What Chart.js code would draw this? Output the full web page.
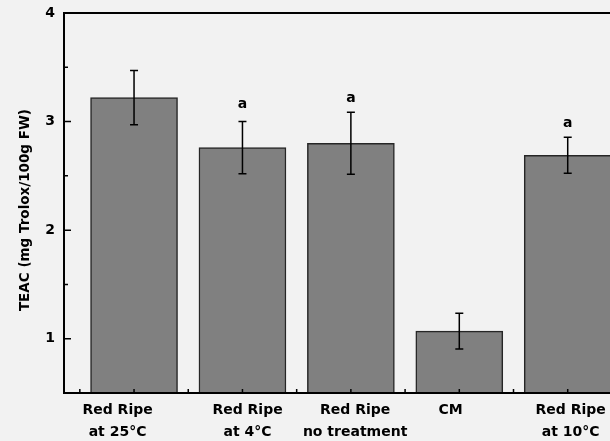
<!DOCTYPE html>
<html>
<head>
<meta charset="utf-8">
<script src="https://cdn.jsdelivr.net/npm/chart.js@4.4.1/dist/chart.umd.min.js"></script>
<style>
  body { margin: 0; background: #f2f2f2; }
  canvas { display: block; }
</style>
</head>
<body>
<canvas id="grafico" width="610" height="441"></canvas>
<script>
// dados
const categorias = [['Red Ripe', 'at 25°C'], ['Red Ripe', 'at 4°C'], ['Red Ripe', 'no treatment'], ['CM'], ['Red Ripe', 'at 10°C']];
const posicoes = [1, 2, 3, 4, 5];
const posRotulos = [0.848, 2.047, 3.039, 3.92, 5.027]; // rotulos nao ficam bem centrados nas barras
const teac = [3.22, 2.76, 2.80, 1.07, 2.69];
const erros = [0.25, 0.24, 0.285, 0.165, 0.165];
const letras = ['', 'a', 'a', '', 'a'];
const letrasY = [null, 3.16, 3.21, null, 2.98];
const yTicks = [1, 2, 3, 4];
const yMenores = [1.5, 2.5, 3.5];

const fonte = 'DejaVu Sans, Arial, sans-serif';

// barras de erro, letras e eixos desenhados por cima
const extras = {
  id: 'extras',
  afterDatasetsDraw(chart) {
    const ctx = chart.ctx;
    const x = chart.scales.x;
    const y = chart.scales.y;
    const area = chart.chartArea;
    ctx.save();

    // barras de erro
    ctx.strokeStyle = '#000';
    ctx.lineWidth = 1.5;
    posicoes.forEach((p, i) => {
      const px = x.getPixelForValue(p);
      const top = y.getPixelForValue(teac[i] + erros[i]);
      const bot = y.getPixelForValue(teac[i] - erros[i]);
      ctx.beginPath();
      ctx.moveTo(px, top); ctx.lineTo(px, bot);
      ctx.moveTo(px - 4, top); ctx.lineTo(px + 4, top);
      ctx.moveTo(px - 4, bot); ctx.lineTo(px + 4, bot);
      ctx.stroke();
    });

    // letras de significancia
    ctx.fillStyle = '#000';
    ctx.font = 'bold 14px ' + fonte;
    ctx.textAlign = 'center';
    ctx.textBaseline = 'middle';
    letras.forEach((l, i) => {
      if (!l) return;
      ctx.fillText(l, x.getPixelForValue(posicoes[i]), y.getPixelForValue(letrasY[i]));
    });

    // eixos
    ctx.lineWidth = 2;
    ctx.beginPath();
    ctx.moveTo(area.left, area.top); ctx.lineTo(area.left, area.bottom);
    ctx.moveTo(area.left - 1, area.bottom); ctx.lineTo(area.right, area.bottom);
    ctx.moveTo(area.left - 1, area.top); ctx.lineTo(area.right, area.top);
    ctx.stroke();

    ctx.lineWidth = 1.5;
    ctx.beginPath();
    yTicks.forEach(v => {
      const py = y.getPixelForValue(v);
      ctx.moveTo(area.left, py); ctx.lineTo(area.left + 7, py);
    });
    yMenores.forEach(v => {
      const py = y.getPixelForValue(v);
      ctx.moveTo(area.left, py); ctx.lineTo(area.left + 4, py);
    });
    posicoes.forEach(p => {
      [p - 0.5, p].forEach(v => {
        const px = x.getPixelForValue(v);
        ctx.moveTo(px, area.bottom); ctx.lineTo(px, area.bottom - 4);
      });
    });
    ctx.stroke();
    ctx.restore();
  }
};

new Chart(document.getElementById('grafico'), {
  type: 'bar',
  data: {
    datasets: [{
      label: 'TEAC',
      data: posicoes.map((p, i) => ({ x: p, y: teac[i] })),
      backgroundColor: '#808080',
      borderColor: '#262626',
      borderWidth: 1.5,
      barThickness: 87
    }]
  },
  options: {
    responsive: false,
    animation: false,
    layout: { padding: { top: 13, right: 0, left: 0, bottom: 0 } },
    plugins: {
      legend: { display: false },
      tooltip: { enabled: false }
    },
    scales: {
      x: {
        type: 'linear',
        offset: false,
        min: 0.354,
        max: 5.39,
        grid: { display: false, drawTicks: false, offset: false },
        border: { display: false },
        afterBuildTicks: s => { s.ticks = posRotulos.map(v => ({ value: v })); },
        afterFit: s => { s.height = 48; s.paddingLeft = 0; s.paddingRight = 0; },
        ticks: {
          autoSkip: false,
          maxRotation: 0,
          padding: 7,
          color: '#000',
          font: { family: fonte, size: 14, weight: 'bold', lineHeight: 1.55 },
          callback: (v) => categorias[posRotulos.indexOf(v)] || ''
        }
      },
      y: {
        min: 0.5,
        max: 4,
        grid: { display: false, drawTicks: false },
        border: { display: false },
        afterBuildTicks: s => { s.ticks = yTicks.map(v => ({ value: v })); },
        afterFit: s => { s.width = 64; s.paddingTop = 0; s.paddingBottom = 0; },
        ticks: {
          padding: 9,
          color: '#000',
          font: { family: fonte, size: 14, weight: 'bold' },
          callback: v => String(v)
        },
        title: {
          display: true,
          text: 'TEAC (mg Trolox/100g FW)\u00a0\u00a0\u00a0',
          color: '#000',
          padding: { top: 17, bottom: 0 },
          font: { family: fonte, size: 13.5, weight: 'bold' }
        }
      }
    }
  },
  plugins: [extras]
});
</script>
</body>
</html>
